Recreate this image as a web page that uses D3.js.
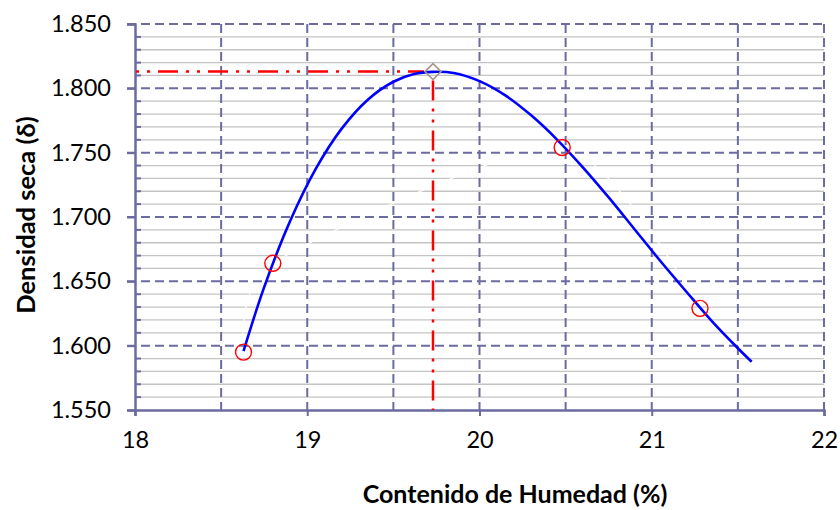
<!DOCTYPE html>
<html>
<head>
<meta charset="utf-8">
<script src="https://cdn.jsdelivr.net/npm/d3@7/dist/d3.min.js"></script>
<style>
  html, body { margin: 0; padding: 0; background: #ffffff; }
  svg { display: block; }
  text { font-family: Lato, "Open Sans", "Liberation Sans", sans-serif; fill: #000; }
</style>
</head>
<body>
<svg id="chart" width="840" height="510"></svg>
<script>
// Proctor test: measured points (moisture %, dry density)
const moisture = [18.63, 18.80, 20.48, 21.28];
const density  = [1.595, 1.664, 1.754, 1.629];

// Fitted compaction curve, read along its length
const fitMoisture = [18.63, 18.75, 18.90, 19.05, 19.20, 19.35, 19.50, 19.62, 19.73, 19.85,
                     20.00, 20.15, 20.30, 20.45, 20.60, 20.75, 20.90, 21.05, 21.20, 21.35,
                     21.50, 21.58];
const fitDensity  = [1.5958, 1.6455, 1.6967, 1.7376, 1.7687, 1.7910, 1.8051, 1.8111, 1.8128, 1.8119,
                     1.8056, 1.7945, 1.7790, 1.7602, 1.7386, 1.7152, 1.6905, 1.6658, 1.6421, 1.6189,
                     1.5980, 1.5875];

// Optimum moisture content and maximum dry density
const optimumMoisture = 19.73;
const maxDensity = 1.813;

// Axis ticks
const xTickLabels = [18, 19, 20, 21, 22];
const xGridValues = [18.5, 19, 19.5, 20, 20.5, 21, 21.5, 22];
const yTickLabels = [1.55, 1.60, 1.65, 1.70, 1.75, 1.80, 1.85];
const yMinorValues = d3.range(156, 185).map(v => v / 100).filter(v => Math.round(v * 100) % 5 !== 0);

const svg = d3.select("#chart");
const x = d3.scaleLinear().domain([18, 22]).range([135, 824]);
const y = d3.scaleLinear().domain([1.55, 1.85]).range([410, 24]);

const gridColor = "#6b6ba0";

// Minor horizontal gridlines
svg.append("g")
  .selectAll("line").data(yMinorValues).join("line")
  .attr("x1", x(18)).attr("x2", x(22))
  .attr("y1", d => y(d)).attr("y2", d => y(d))
  .attr("stroke", "#c4c4c4").attr("stroke-width", 1.3);

// Series line (white, smoothed) connecting measured points
const pts = moisture.map((m, i) => [m, density[i]]);
svg.append("path")
  .datum(pts)
  .attr("d", d3.line().x(d => x(d[0])).y(d => y(d[1])).curve(d3.curveCardinal.tension(0.3)))
  .attr("fill", "none").attr("stroke", "#ffffff").attr("stroke-width", 1.2);

// Major horizontal dashed gridlines (extend out as ticks)
svg.append("g")
  .selectAll("line").data(yTickLabels.filter(v => v > 1.55)).join("line")
  .attr("x1", x(18) - 8).attr("x2", x(22))
  .attr("y1", d => y(d)).attr("y2", d => y(d))
  .attr("stroke", gridColor).attr("stroke-width", 2).attr("stroke-dasharray", "9,5");

// Vertical dashed gridlines
svg.append("g")
  .selectAll("line").data(xGridValues).join("line")
  .attr("x1", d => x(d)).attr("x2", d => x(d))
  .attr("y1", y(1.85)).attr("y2", y(1.55))
  .attr("stroke", gridColor).attr("stroke-width", 2).attr("stroke-dasharray", "9,5");

// Axes
const yAxis = d3.axisLeft(y).tickValues(yTickLabels).tickFormat(d3.format(".3f")).tickSize(8).tickPadding(16);
const gy = svg.append("g").attr("transform", `translate(${x(18)},0)`).call(yAxis);
gy.select(".domain").attr("stroke", gridColor).attr("stroke-width", 2.5);
gy.selectAll(".tick line").attr("stroke", gridColor).attr("stroke-width", 2);
gy.selectAll(".tick text").style("font-size", "23.5px").attr("fill", "#000");

// Minor y ticks pointing inward
svg.append("g")
  .selectAll("line").data(yMinorValues).join("line")
  .attr("x1", x(18)).attr("x2", x(18) + 6)
  .attr("y1", d => y(d)).attr("y2", d => y(d))
  .attr("stroke", gridColor).attr("stroke-width", 2);

const xAxis = d3.axisBottom(x).tickValues(xTickLabels).tickFormat(d3.format("d")).tickSize(6).tickPadding(15);
const gx = svg.append("g").attr("transform", `translate(0,${y(1.55)})`).call(xAxis);
gx.select(".domain").attr("stroke", gridColor).attr("stroke-width", 2.5);
gx.selectAll(".tick line").attr("stroke", gridColor).attr("stroke-width", 2);
gx.selectAll(".tick text").style("font-size", "23.5px").attr("fill", "#000");

// Optimum reference lines
const refDash = "20,8,3,8,3,8";
svg.append("line")
  .attr("x1", x(18)).attr("x2", x(optimumMoisture) - 9)
  .attr("y1", y(maxDensity)).attr("y2", y(maxDensity))
  .attr("stroke", "#ff0000").attr("stroke-width", 2.5).attr("stroke-dasharray", refDash)
  .attr("stroke-dashoffset", 27);
svg.append("line")
  .attr("x1", x(optimumMoisture)).attr("x2", x(optimumMoisture))
  .attr("y1", y(maxDensity) + 9).attr("y2", y(1.55))
  .attr("stroke", "#ff0000").attr("stroke-width", 2.5).attr("stroke-dasharray", refDash);

// Fitted curve
const fit = fitMoisture.map((m, i) => [m, fitDensity[i]]);
svg.append("path")
  .datum(fit)
  .attr("d", d3.line().x(d => x(d[0])).y(d => y(d[1])).curve(d3.curveCatmullRom.alpha(0.5)))
  .attr("fill", "none").attr("stroke", "#0000ff").attr("stroke-width", 2.6);

// Measured points
svg.append("g")
  .selectAll("circle").data(pts).join("circle")
  .attr("cx", d => x(d[0])).attr("cy", d => y(d[1])).attr("r", 8)
  .attr("fill", "none").attr("stroke", "#ff0000").attr("stroke-width", 1.4);

// Peak marker
svg.append("path")
  .attr("d", d3.symbol().type(d3.symbolDiamond2).size(165)())
  .attr("transform", `translate(${x(optimumMoisture)},${y(maxDensity)})`)
  .attr("fill", "none").attr("stroke", "#a8978a").attr("stroke-width", 1.6);

// Axis titles
svg.append("text")
  .attr("x", 515).attr("y", 503)
  .attr("text-anchor", "middle")
  .style("font-size", "25px").style("font-weight", "bold")
  .text("Contenido de Humedad (%)");
svg.append("text")
  .attr("transform", "translate(35,215) rotate(-90)")
  .attr("text-anchor", "middle")
  .style("font-size", "25.5px").style("font-weight", "bold")
  .text("Densidad seca (δ)");
</script>
</body>
</html>
